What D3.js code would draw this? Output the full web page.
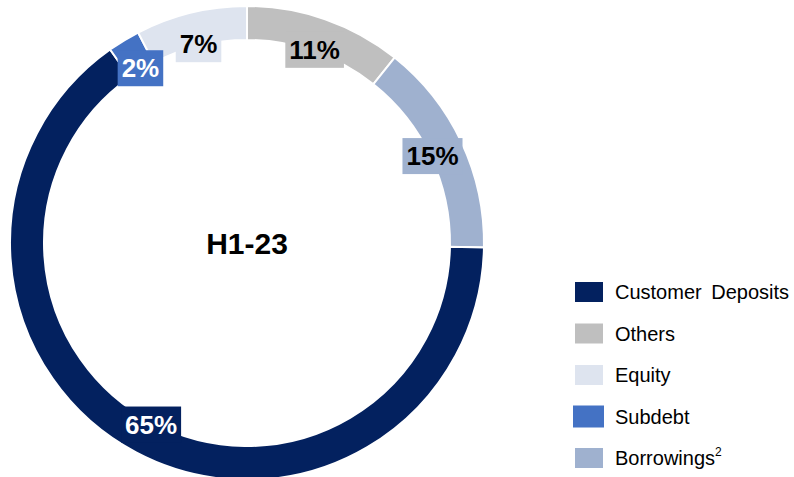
<!DOCTYPE html>
<html>
<head>
<meta charset="utf-8">
<script src="https://cdn.jsdelivr.net/npm/d3@7"></script>
<style>
    body { margin: 0; background: #fff; }
    svg { display: block; font-family: Arial, "Liberation Sans", sans-serif; }
</style>
</head>
<body>
<svg id="chart" width="794" height="477"></svg>
<script>
// slices in drawing order, clockwise from 12 o'clock
const categories = ["Others", "Borrowings", "Customer Deposits", "Subdebt", "Equity"];
const shares = [10.7, 14.6, 64.9, 2.2, 7.6];
const labels = ["11%", "15%", "65%", "2%", "7%"];
const colors = ["#bfbfbf", "#9fb1cf", "#03215f", "#4472c4", "#dee4ef"];
const labelColors = ["#000", "#000", "#fff", "#fff", "#000"];

// legend order as shown on the right
const legendOrder = ["Customer Deposits", "Others", "Equity", "Subdebt", "Borrowings"];

const cx = 247, cy = 243;
const outerR = 237, innerR = 203;

const svg = d3.select("#chart");

const pie = d3.pie().sort(null).value(d => d.value);
const arc = d3.arc().innerRadius(innerR).outerRadius(outerR);

const data = categories.map((c, i) => ({
    name: c, value: shares[i], label: labels[i], color: colors[i], textColor: labelColors[i]
}));

const arcs = pie(data);

const donut = svg.append("g")
    .attr("transform", `translate(${cx},${cy})`);

donut.selectAll("path")
    .data(arcs)
    .join("path")
    .attr("d", arc)
    .attr("fill", d => d.data.color)
    .attr("stroke", "#fff")
    .attr("stroke-width", 2);

// labels sit on a filled box in the slice colour, centred near the inner edge
const labelR = 205;
const labelG = donut.selectAll("g.slice-label")
    .data(arcs)
    .join("g")
    .attr("class", "slice-label")
    .attr("transform", d => {
        const a = (d.startAngle + d.endAngle) / 2;
        return `translate(${labelR * Math.sin(a)},${-labelR * Math.cos(a)})`;
    });

labelG.append("rect")
    .attr("fill", d => d.data.color);

labelG.append("text")
    .attr("text-anchor", "middle")
    .attr("dy", "0.36em")
    .attr("font-size", 26)
    .attr("font-weight", "bold")
    .attr("fill", d => d.data.textColor)
    .text(d => d.data.label);

labelG.each(function() {
    const g = d3.select(this);
    const bb = g.select("text").node().getBBox();
    g.select("rect")
        .attr("x", bb.x - 4)
        .attr("y", bb.y - 3)
        .attr("width", bb.width + 8)
        .attr("height", bb.height + 6);
});

svg.append("text")
    .attr("x", cx)
    .attr("y", cy)
    .attr("dy", "0.36em")
    .attr("text-anchor", "middle")
    .attr("font-size", 30)
    .attr("font-weight", "bold")
    .attr("fill", "#000")
    .text("H1-23");

// legend
const legendY = d3.scalePoint()
    .domain(legendOrder)
    .range([292, 458]);

const legend = svg.append("g").attr("class", "legend");

const items = legend.selectAll("g")
    .data(legendOrder)
    .join("g")
    .attr("transform", d => `translate(575,${legendY(d)})`);

items.append("rect")
    .attr("x", d => d === "Subdebt" ? -2 : 0)
    .attr("y", d => d === "Subdebt" ? -11 : -10)
    .attr("width", d => d === "Subdebt" ? 31 : 28)
    .attr("height", d => d === "Subdebt" ? 22 : 20)
    .attr("fill", d => colors[categories.indexOf(d)]);

const legendText = items.append("text")
    .attr("x", 40)
    .attr("dy", "0.36em")
    .attr("font-size", 20)
    .attr("fill", "#000")
    .style("word-spacing", "4px")
    .text(d => d);

legendText.filter(d => d === "Borrowings")
    .append("tspan")
    .attr("font-size", 12)
    .attr("dy", "-0.75em")
    .text("2");
</script>
</body>
</html>
